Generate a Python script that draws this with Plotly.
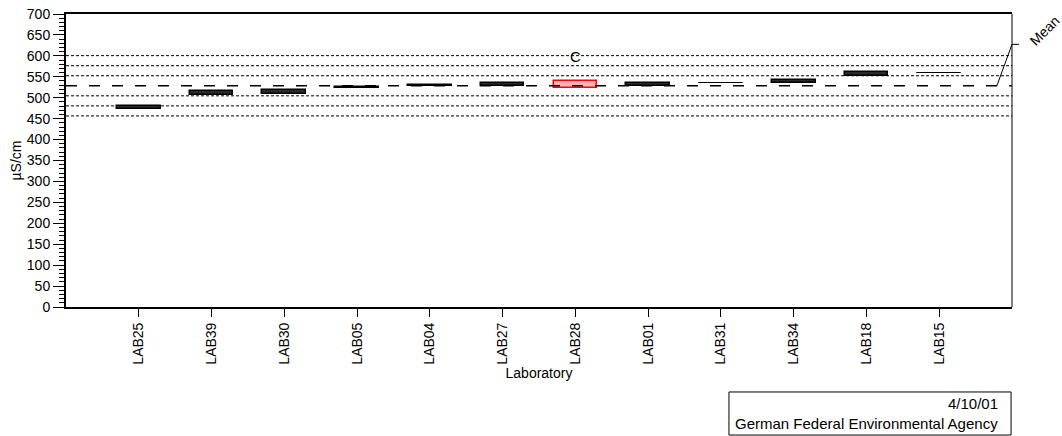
import plotly.graph_objects as go

labs = ["LAB25", "LAB39", "LAB30", "LAB05", "LAB04", "LAB27",
        "LAB28", "LAB01", "LAB31", "LAB34", "LAB18", "LAB15"]
low = [473, 506, 509, 523.5, 527.5, 527.5, 523, 528.5, 534, 534, 553, 559]
high = [481, 515, 518, 526.5, 531.5, 535, 539, 535, 534.5, 543, 561, 560]
flags = ["", "", "", "", "", "", "C", "", "", "", "", ""]
mean_value = 528.5
sd_value = 24.0
sd_multiples = [-3, -2, -1, 1, 2, 3]
y_ticks = list(range(0, 701, 50))

FONT = "Liberation Sans, Arial, sans-serif"

heights = [h - l for h, l in zip(high, low)]
fill_cols = ["rgba(255,90,90,0.45)" if f else "#2a2a2a" for f in flags]
line_cols = ["#ff0000" if f else "#000000" for f in flags]
line_w = [1.5 if f else (1.0 if (h - l) < 1.5 else 1.5) for f, h, l in zip(flags, high, low)]

fig = go.Figure()
fig.add_trace(go.Bar(
    x=labs, y=heights, base=low, width=0.6,
    marker=dict(color=fill_cols, line=dict(color=line_cols, width=line_w)),
    showlegend=False, hoverinfo="skip"))

shapes = []
for k in sd_multiples:
    yv = mean_value + k * sd_value
    shapes.append(dict(type="line", xref="paper", yref="y", x0=0, x1=1, y0=yv, y1=yv,
                       line=dict(color="black", width=1, dash="3px,2px"), layer="below"))
shapes.append(dict(type="line", xref="paper", yref="y", x0=0, x1=1, y0=mean_value, y1=mean_value,
                   line=dict(color="black", width=1.5, dash="11px,12px"), layer="above"))
# right border (thin)
shapes.append(dict(type="line", xref="paper", yref="paper", x0=1, x1=1, y0=0, y1=1,
                   line=dict(color="black", width=1)))
# Mean pointer
shapes.append(dict(type="line", xref="paper", yref="y", x0=0.984, x1=1.0,
                   y0=mean_value, y1=mean_value + 99, line=dict(color="black", width=1)))
shapes.append(dict(type="line", xref="paper", yref="y", x0=1.0, x1=1.0075,
                   y0=mean_value + 99, y1=mean_value + 99, line=dict(color="black", width=1)))
# footer box
shapes.append(dict(type="rect", xref="paper", yref="paper", x0=0.7008, x1=0.999,
                   y0=-0.437, y1=-0.290, line=dict(color="black", width=1),
                   fillcolor="white"))

annotations = []
for lab, f in zip(labs, flags):
    if f:
        annotations.append(dict(x=lab, y=598, xref="x", yref="y", text=f, showarrow=False,
                                xanchor="center", yanchor="middle",
                                font=dict(family=FONT, size=15, color="black")))
annotations.append(dict(x=1.034, y=660, xref="paper", yref="y", text="Mean", showarrow=False,
                        xanchor="center", yanchor="middle",
                        textangle=-45, font=dict(family=FONT, size=14, color="black")))
annotations.append(dict(x=0.9873, y=-0.328, xref="paper", yref="paper", text="4/10/01",
                        showarrow=False, xanchor="right", yanchor="middle",
                        font=dict(family=FONT, size=15, color="black")))
annotations.append(dict(x=0.9873, y=-0.396, xref="paper", yref="paper",
                        text="German Federal Environmental Agency",
                        showarrow=False, xanchor="right", yanchor="middle",
                        font=dict(family=FONT, size=15, color="black")))

fig.update_layout(
    width=1062, height=436,
    margin=dict(l=66, r=50, t=14, b=129, pad=0, autoexpand=False),
    paper_bgcolor="white", plot_bgcolor="white",
    font=dict(family=FONT, size=14, color="black"),
    shapes=shapes, annotations=annotations,
    bargap=0,
    xaxis=dict(type="category", categoryorder="array", categoryarray=labs,
               range=[-1, 12], showline=True, linewidth=2, linecolor="black", mirror=True,
               ticks="outside", ticklen=8, tickwidth=1, tickcolor="black",
               tickangle=-90, showgrid=False, zeroline=False, automargin=False,
               tickfont=dict(family=FONT, size=14),
               title=dict(text="Laboratory", font=dict(family=FONT, size=14), standoff=4)),
    yaxis=dict(range=[0, 700], tickvals=y_ticks, showline=True, linewidth=2, linecolor="black",
               mirror=False, ticks="outside", ticklen=11, tickwidth=1, tickcolor="black",
               minor=dict(dtick=10, ticks="outside", ticklen=5, tickcolor="black", tickwidth=1),
               showgrid=False, zeroline=False, automargin=False,
               tickfont=dict(family=FONT, size=14),
               title=dict(text="µS/cm", font=dict(family=FONT, size=14), standoff=2)),
)

fig.write_html("out.html", config={"displayModeBar": False},
               post_script="document.body.style.margin='0';")
